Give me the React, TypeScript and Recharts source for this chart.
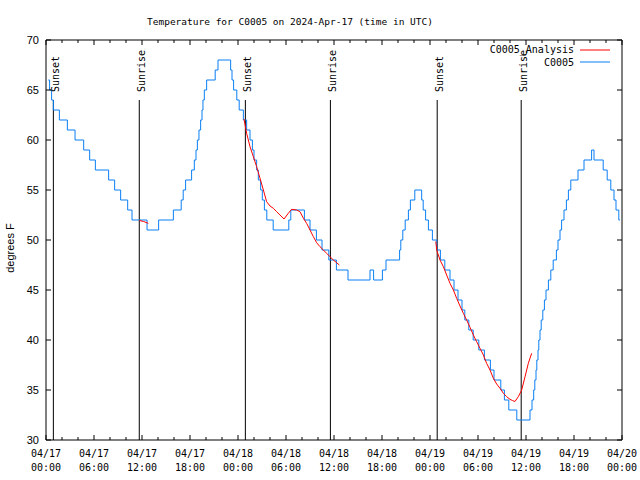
import React from 'react';
import { LineChart, Line, XAxis, YAxis, ReferenceLine, ReferenceDot } from 'recharts';

const MONO = "'DejaVu Sans Mono', 'Liberation Mono', monospace";
const SANS = "'Liberation Sans', 'DejaVu Sans', Arial, sans-serif";

// observed temperature: hour since 04/17 00:00 UTC where the reading changes, and the new reading (deg F)
const obsHours = [
  0.29, 0.45, 0.7, 0.92, 1.67, 2.67, 3.63, 4.71, 5.46, 6.17, 7.83, 8.58, 9.33, 10.21, 10.75, 12.63, 14.08,
  15.92, 16.9, 17.15, 17.45, 18.2, 18.54, 18.75, 18.92, 19.12, 19.33, 19.5, 19.62, 19.79, 20.08, 21.15, 21.5,
  23.08, 23.25, 23.45, 23.85, 24.15, 24.67, 25.08, 25.5, 25.8, 26.0, 26.33, 26.54, 26.83, 27.04, 27.3, 27.6,
  28.4, 30.35, 30.6, 32.3, 33.0, 33.8, 34.5, 35.35, 36.3, 37.75, 40.5, 40.95, 42.05, 42.5, 44.2, 44.35, 44.6,
  44.9, 45.3, 45.55, 46.1, 46.96, 47.15, 47.45, 47.8, 48.3, 48.85, 49.3, 49.85, 50.5, 51.0, 51.5, 52.0, 52.35,
  52.85, 53.4, 54.1, 54.8, 55.55, 56.0, 56.85, 57.3, 57.85, 58.85, 60.5, 60.75, 60.96, 61.1, 61.25, 61.35,
  61.5, 61.6, 61.75, 61.9, 62.1, 62.3, 62.5, 62.8, 63.1, 63.4, 63.8, 64.0, 64.25, 64.45, 64.75, 65.05, 65.3,
  65.6, 66.5, 67.25, 68.2, 68.5, 69.65, 70.15, 70.6, 71.0, 71.25, 71.6, 71.75,
];
const obsTemps = [
  66, 65, 64, 63, 62, 61, 60, 59, 58, 57, 56, 55, 54, 53, 52, 51, 52,
  53, 54, 55, 56, 57, 58, 59, 60, 61, 62, 63, 64, 65, 66, 67, 68,
  67, 66, 65, 64, 63, 62, 61, 60, 59, 58, 57, 56, 55, 54, 53, 52,
  51, 52, 53, 52, 51, 50, 49, 48, 47, 46, 47, 46, 47, 48, 49, 50, 51,
  52, 53, 54, 55, 54, 53, 52, 51, 50, 49, 48, 47, 46, 45, 44, 43, 42,
  41, 40, 39, 38, 37, 36, 35, 34, 33, 32, 33, 34, 35, 36, 37, 38,
  39, 40, 41, 42, 43, 44, 45, 46, 47, 48, 49, 50, 51, 52, 53, 54, 55,
  56, 57, 58, 59, 58, 57, 56, 55, 54, 53, 52, 52,
];

// analysis curve, null marks a break between runs
const fitHours = [
  11.67, 12.2, 12.79, 12.8,
  24.75, 25.08, 25.5, 25.92, 26.33, 26.75, 27.17, 27.58, 28.0, 28.42, 28.83, 29.25, 29.75, 30.29, 30.7,
  31.33, 31.75, 32.17, 32.58, 33.0, 33.42, 33.83, 34.25, 34.67, 35.08, 35.5, 35.92, 36.33, 36.67, 36.7,
  48.72, 48.85, 49.25, 49.67, 50.08, 50.5, 50.92, 51.33, 51.75, 52.17, 52.58, 53.0, 53.42, 53.83, 54.25,
  54.67, 55.08, 55.5, 55.92, 56.33, 56.75, 57.17, 57.58, 58.0, 58.3, 58.62, 59.04, 59.46, 59.88, 60.29, 60.71,
];
const fitTemps = [
  51.95, 51.85, 51.67, null,
  62.1, 60.67, 59.33, 58.33, 57.33, 56.17, 55.0, 53.83, 53.4, 53.17, 52.83, 52.5, 52.1, 52.67, 53.07,
  53.0, 52.83, 52.17, 51.67, 51.0, 50.33, 49.73, 49.33, 49.0, 48.67, 48.33, 48.0, 47.73, 47.5, null,
  49.85, 48.95, 48.0, 47.33, 46.5, 45.67, 45.0, 44.17, 43.4, 42.67, 42.0, 41.27, 40.5, 39.83, 39.17,
  38.5, 37.67, 37.0, 36.17, 35.6, 35.17, 34.67, 34.33, 34.07, 33.95, 33.85, 34.33, 35.0, 36.33, 37.67, 38.67,
];

const sunHours = [0.92, 11.66, 24.92, 35.55, 48.9, 59.4];
const sunNames = ['Sunset', 'Sunrise', 'Sunset', 'Sunrise', 'Sunset', 'Sunrise'];
const sunLineTop = 64;

const xTicks = [0, 2, 4, 6, 8, 10, 12, 14, 16, 18, 20, 22, 24, 26, 28, 30, 32, 34, 36, 38, 40, 42, 44, 46, 48,
  50, 52, 54, 56, 58, 60, 62, 64, 66, 68, 70, 72];
const majorHours = [0, 6, 12, 18, 24, 30, 36, 42, 48, 54, 60, 66, 72];
const majorDates = ['04/17', '04/17', '04/17', '04/17', '04/18', '04/18', '04/18', '04/18', '04/19', '04/19',
  '04/19', '04/19', '04/20'];
const majorTimes = ['00:00', '06:00', '12:00', '18:00', '00:00', '06:00', '12:00', '18:00', '00:00', '06:00',
  '12:00', '18:00', '00:00'];
const yTicks = [30, 35, 40, 45, 50, 55, 60, 65, 70];

const obsData = obsHours.map((h, i) => ({ h, t: obsTemps[i] }));
const fitData = fitHours.map((h, i) => ({ h, t: fitTemps[i] }));

function BottomTick(props: any) {
  const { x, y, payload } = props;
  const i = majorHours.indexOf(payload.value);
  return (
    <g>
      <line x1={x} y1={y} x2={x} y2={y - (i >= 0 ? 5 : 3)} stroke="#000" />
      {i >= 0 && (
        <text x={x} y={y + 17} textAnchor="middle" fontFamily={MONO} fontSize={10} fill="#000">
          <tspan x={x}>{majorDates[i]}</tspan>
          <tspan x={x} dy={14}>{majorTimes[i]}</tspan>
        </text>
      )}
    </g>
  );
}

function TopTick(props: any) {
  const { x, y, payload } = props;
  const major = majorHours.includes(payload.value);
  return <line x1={x} y1={y} x2={x} y2={y + (major ? 5 : 3)} stroke="#000" />;
}

function LeftTick(props: any) {
  const { x, y, payload } = props;
  return (
    <g>
      <line x1={x} y1={y} x2={x + 5} y2={y} stroke="#000" />
      <text x={x - 7} y={y + 4} textAnchor="end" fontFamily={SANS} fontSize={11} fill="#000">
        {payload.value}
      </text>
    </g>
  );
}

function RightTick(props: any) {
  const { x, y } = props;
  return <line x1={x} y1={y} x2={x - 5} y2={y} stroke="#000" />;
}

export default function App() {
  return (
    <div style={{ position: 'absolute', left: 0, top: 0, width: 640, height: 480, background: '#fff' }}>
      <LineChart width={640} height={480} margin={{ top: 0, right: 0, bottom: 0, left: 0 }}>
        <XAxis xAxisId="bottom" dataKey="h" type="number" domain={[0, 72]} ticks={xTicks} interval={0}
          allowDataOverflow height={40} tickSize={0} tickMargin={0} tickLine={false}
          axisLine={{ stroke: '#000' }} tick={<BottomTick />} />
        <XAxis xAxisId="top" orientation="top" dataKey="h" type="number" domain={[0, 72]} ticks={xTicks}
          interval={0} allowDataOverflow height={40} tickSize={0} tickMargin={0} tickLine={false}
          axisLine={{ stroke: '#000' }} tick={<TopTick />} />
        <YAxis yAxisId="left" type="number" domain={[30, 70]} ticks={yTicks} interval={0} allowDataOverflow
          width={46} tickSize={0} tickMargin={0} tickLine={false} axisLine={{ stroke: '#000' }}
          tick={<LeftTick />} />
        <YAxis yAxisId="right" orientation="right" type="number" domain={[30, 70]} ticks={yTicks}
          interval={0} allowDataOverflow width={18} tickSize={0} tickMargin={0} tickLine={false}
          axisLine={{ stroke: '#000' }} tick={<RightTick />} />
        {sunHours.map((h, i) => (
          <ReferenceLine key={'s' + i} xAxisId="bottom" yAxisId="left" ifOverflow="visible"
            segment={[{ x: h, y: 30 }, { x: h, y: sunLineTop }]} stroke="#000" strokeWidth={1} />
        ))}
        {sunHours.map((h, i) => (
          <ReferenceDot key={'n' + i} xAxisId="bottom" yAxisId="left" x={h} y={sunLineTop} r={0}
            ifOverflow="visible"
            shape={(p: any) => (
              <text transform={`translate(${p.cx + 6},${p.cy - 8}) rotate(-90)`} fontFamily={MONO}
                fontSize={10} fill="#000">
                {sunNames[i]}
              </text>
            )} />
        ))}
        <Line data={obsData} xAxisId="bottom" yAxisId="left" dataKey="t" type="stepAfter" stroke="#0a7ff5"
          strokeWidth={1} dot={false} isAnimationActive={false} />
        <Line data={fitData} xAxisId="bottom" yAxisId="left" dataKey="t" type="linear" stroke="#ff0000"
          strokeWidth={1} dot={false} connectNulls={false} isAnimationActive={false} />
      </LineChart>
      <svg width={640} height={480} style={{ position: 'absolute', left: 0, top: 0, pointerEvents: 'none' }}>
        <text x={290} y={25} textAnchor="middle" fontFamily={MONO} fontSize={9.5} fill="#000">
          Temperature for C0005 on 2024-Apr-17 (time in UTC)
        </text>
        <text transform="translate(14,248) rotate(-90)" textAnchor="middle" fontFamily={SANS} fontSize={11}
          fill="#000">
          degrees F
        </text>
        <text x={574} y={53} textAnchor="end" fontFamily={MONO} fontSize={10} fill="#000">C0005_Analysis</text>
        <line x1={580} y1={50} x2={610} y2={50} stroke="#ff0000" />
        <text x={574} y={66} textAnchor="end" fontFamily={MONO} fontSize={10} fill="#000">C0005</text>
        <line x1={580} y1={62} x2={610} y2={62} stroke="#0a7ff5" />
      </svg>
    </div>
  );
}
